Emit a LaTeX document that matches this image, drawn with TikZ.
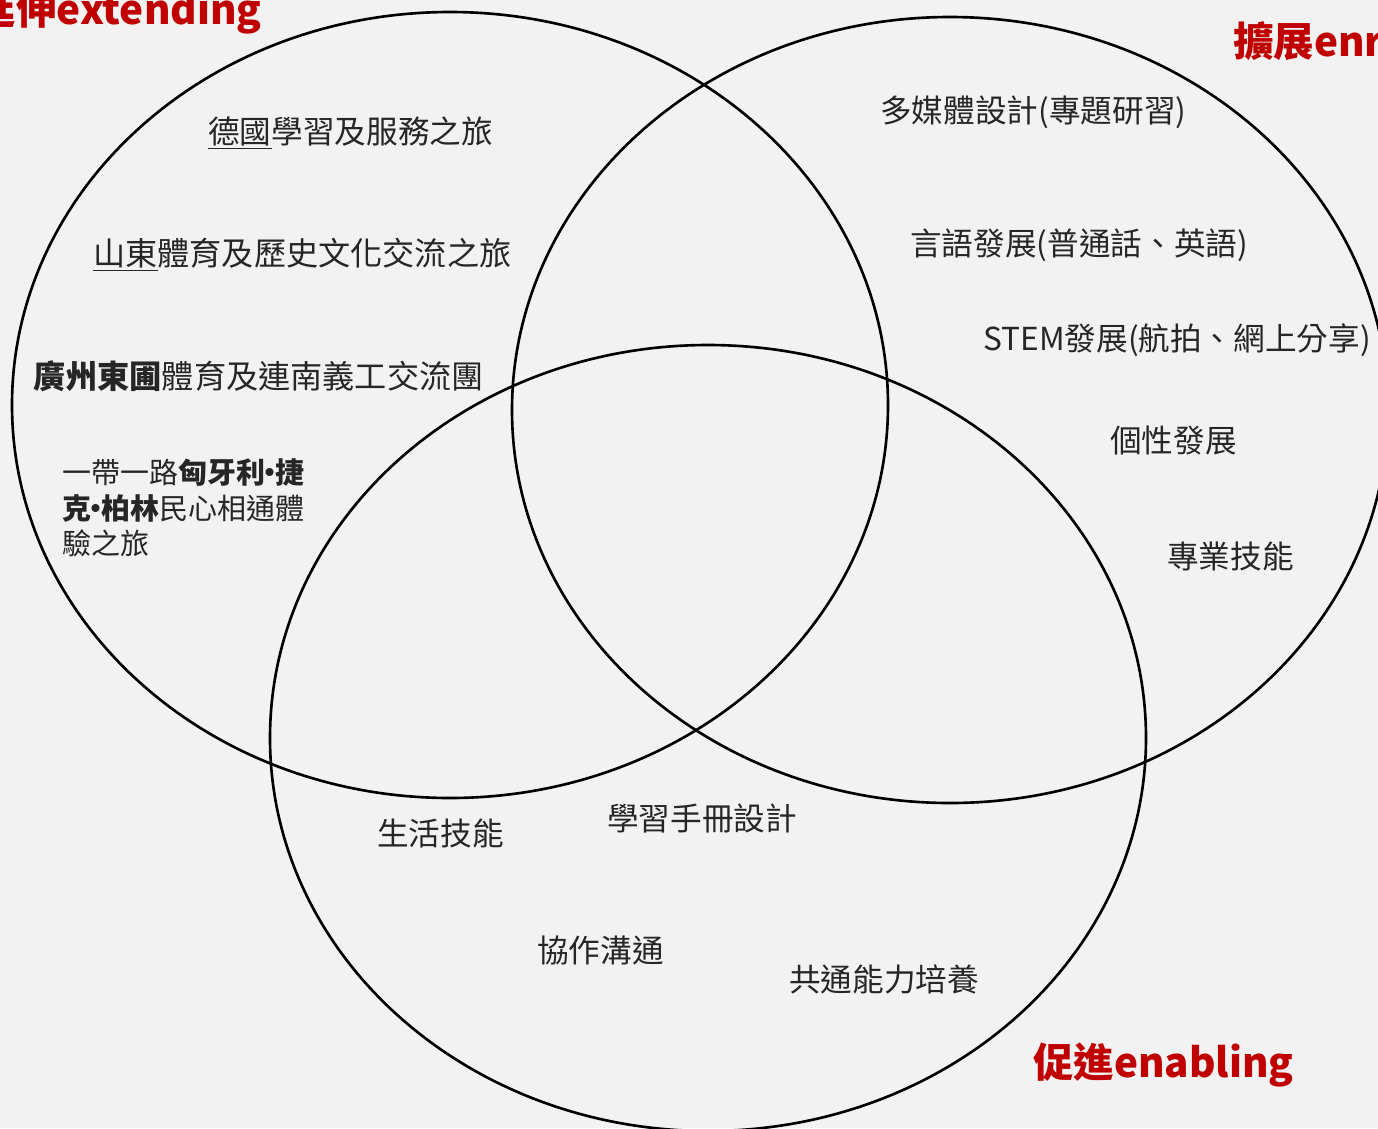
\documentclass[tikz,border=0pt]{standalone}
\usepackage{fontspec}
\setmainfont{Noto Sans CJK TC}
\usepackage{tikz}
\usetikzlibrary{shapes.geometric}
\definecolor{bgGray}{RGB}{242,242,242}
\definecolor{labRed}{RGB}{192,0,0}
\tikzstyle{ring} = [draw, ellipse, line width=1.5pt, minimum width=17.52cm, minimum height=15.72cm, inner sep=0pt]
\tikzstyle{item} = [anchor=west, inner sep=0pt, font=\fontsize{18pt}{21pt}\selectfont, black!85]
\tikzstyle{head} = [inner sep=0pt, font=\fontsize{23pt}{27pt}\selectfont\bfseries, labRed]
\newcommand{\ndot}{\makebox[0.35em]{·}}
\begin{document}
\begin{tikzpicture}
                    \useasboundingbox (0,0) rectangle (27.56,-22.56);
                    \fill[bgGray] (0,0) rectangle (27.56,-22.56);
                    \clip (0,0) rectangle (27.56,-22.56);
                    \node at (9.00,-8.10)  [ring] (nExt) {};
                    \node at (19.00,-8.20) [ring] (nEnr) {};
                    \node at (14.16,-14.76)[ring] (nEna) {};
                    \node at (nExt) [xshift=-4.84cm,yshift= 5.44cm,item                                                ] (nGer)  {\underline{德國}學習及服務之旅};
                    \node at (nExt) [xshift=-7.14cm,yshift= 3.00cm,item,font=\fontsize{18.3pt}{22pt}\selectfont        ] (nShd)  {\underline{山東}體育及歷史文化交流之旅};
                    \node at (nExt) [xshift=-8.34cm,yshift= 0.58cm,item,font=\fontsize{18.3pt}{22pt}\selectfont        ] (nGz)   {\textbf{廣州東圃}體育及連南義工交流團};
                    \node at (nExt) [xshift=-7.76cm,yshift=-2.06cm,item,align=left,font=\fontsize{16.5pt}{20.2pt}\selectfont] (nBelt) {一帶一路\textbf{匈牙利\ndot 捷}\\\textbf{克\ndot 柏林}民心相通體\\驗之旅};
                    \node at (nExt) [xshift=-3.76cm,yshift= 7.86cm,head,anchor=east                                    ] (nLabE) {延伸extending};
                    \node at (nEnr) [xshift=-1.40cm,yshift= 5.96cm,item                                                ] (nMedia){多媒體設計(專題研習)};
                    \node at (nEnr) [xshift=-0.80cm,yshift= 3.30cm,item                                                ] (nLang) {言語發展(普通話、英語)};
                    \node at (nEnr) [xshift= 0.66cm,yshift= 1.40cm,item                                                ] (nStem) {STEM發展(航拍、網上分享)};
                    \node at (nEnr) [xshift= 3.20cm,yshift=-0.62cm,item                                                ] (nPers) {個性發展};
                    \node at (nEnr) [xshift= 4.34cm,yshift=-2.92cm,item                                                ] (nPro)  {專業技能};
                    \node at (nEnr) [xshift= 5.66cm,yshift= 7.32cm,head,anchor=west                                    ] (nLabR) {擴展enriching};
                    \node at (nEna) [xshift=-6.62cm,yshift=-1.90cm,item                                                ] (nLife) {生活技能};
                    \node at (nEna) [xshift=-2.02cm,yshift=-1.60cm,item                                                ] (nBook) {學習手冊設計};
                    \node at (nEna) [xshift=-3.42cm,yshift=-4.24cm,item                                                ] (nColl) {協作溝通};
                    \node at (nEna) [xshift= 1.62cm,yshift=-4.82cm,item                                                ] (nGen)  {共通能力培養};
                    \node at (nEna) [xshift= 6.50cm,yshift=-6.54cm,head,anchor=west                                    ] (nLabN) {促進enabling};
                \end{tikzpicture}
\end{document}
